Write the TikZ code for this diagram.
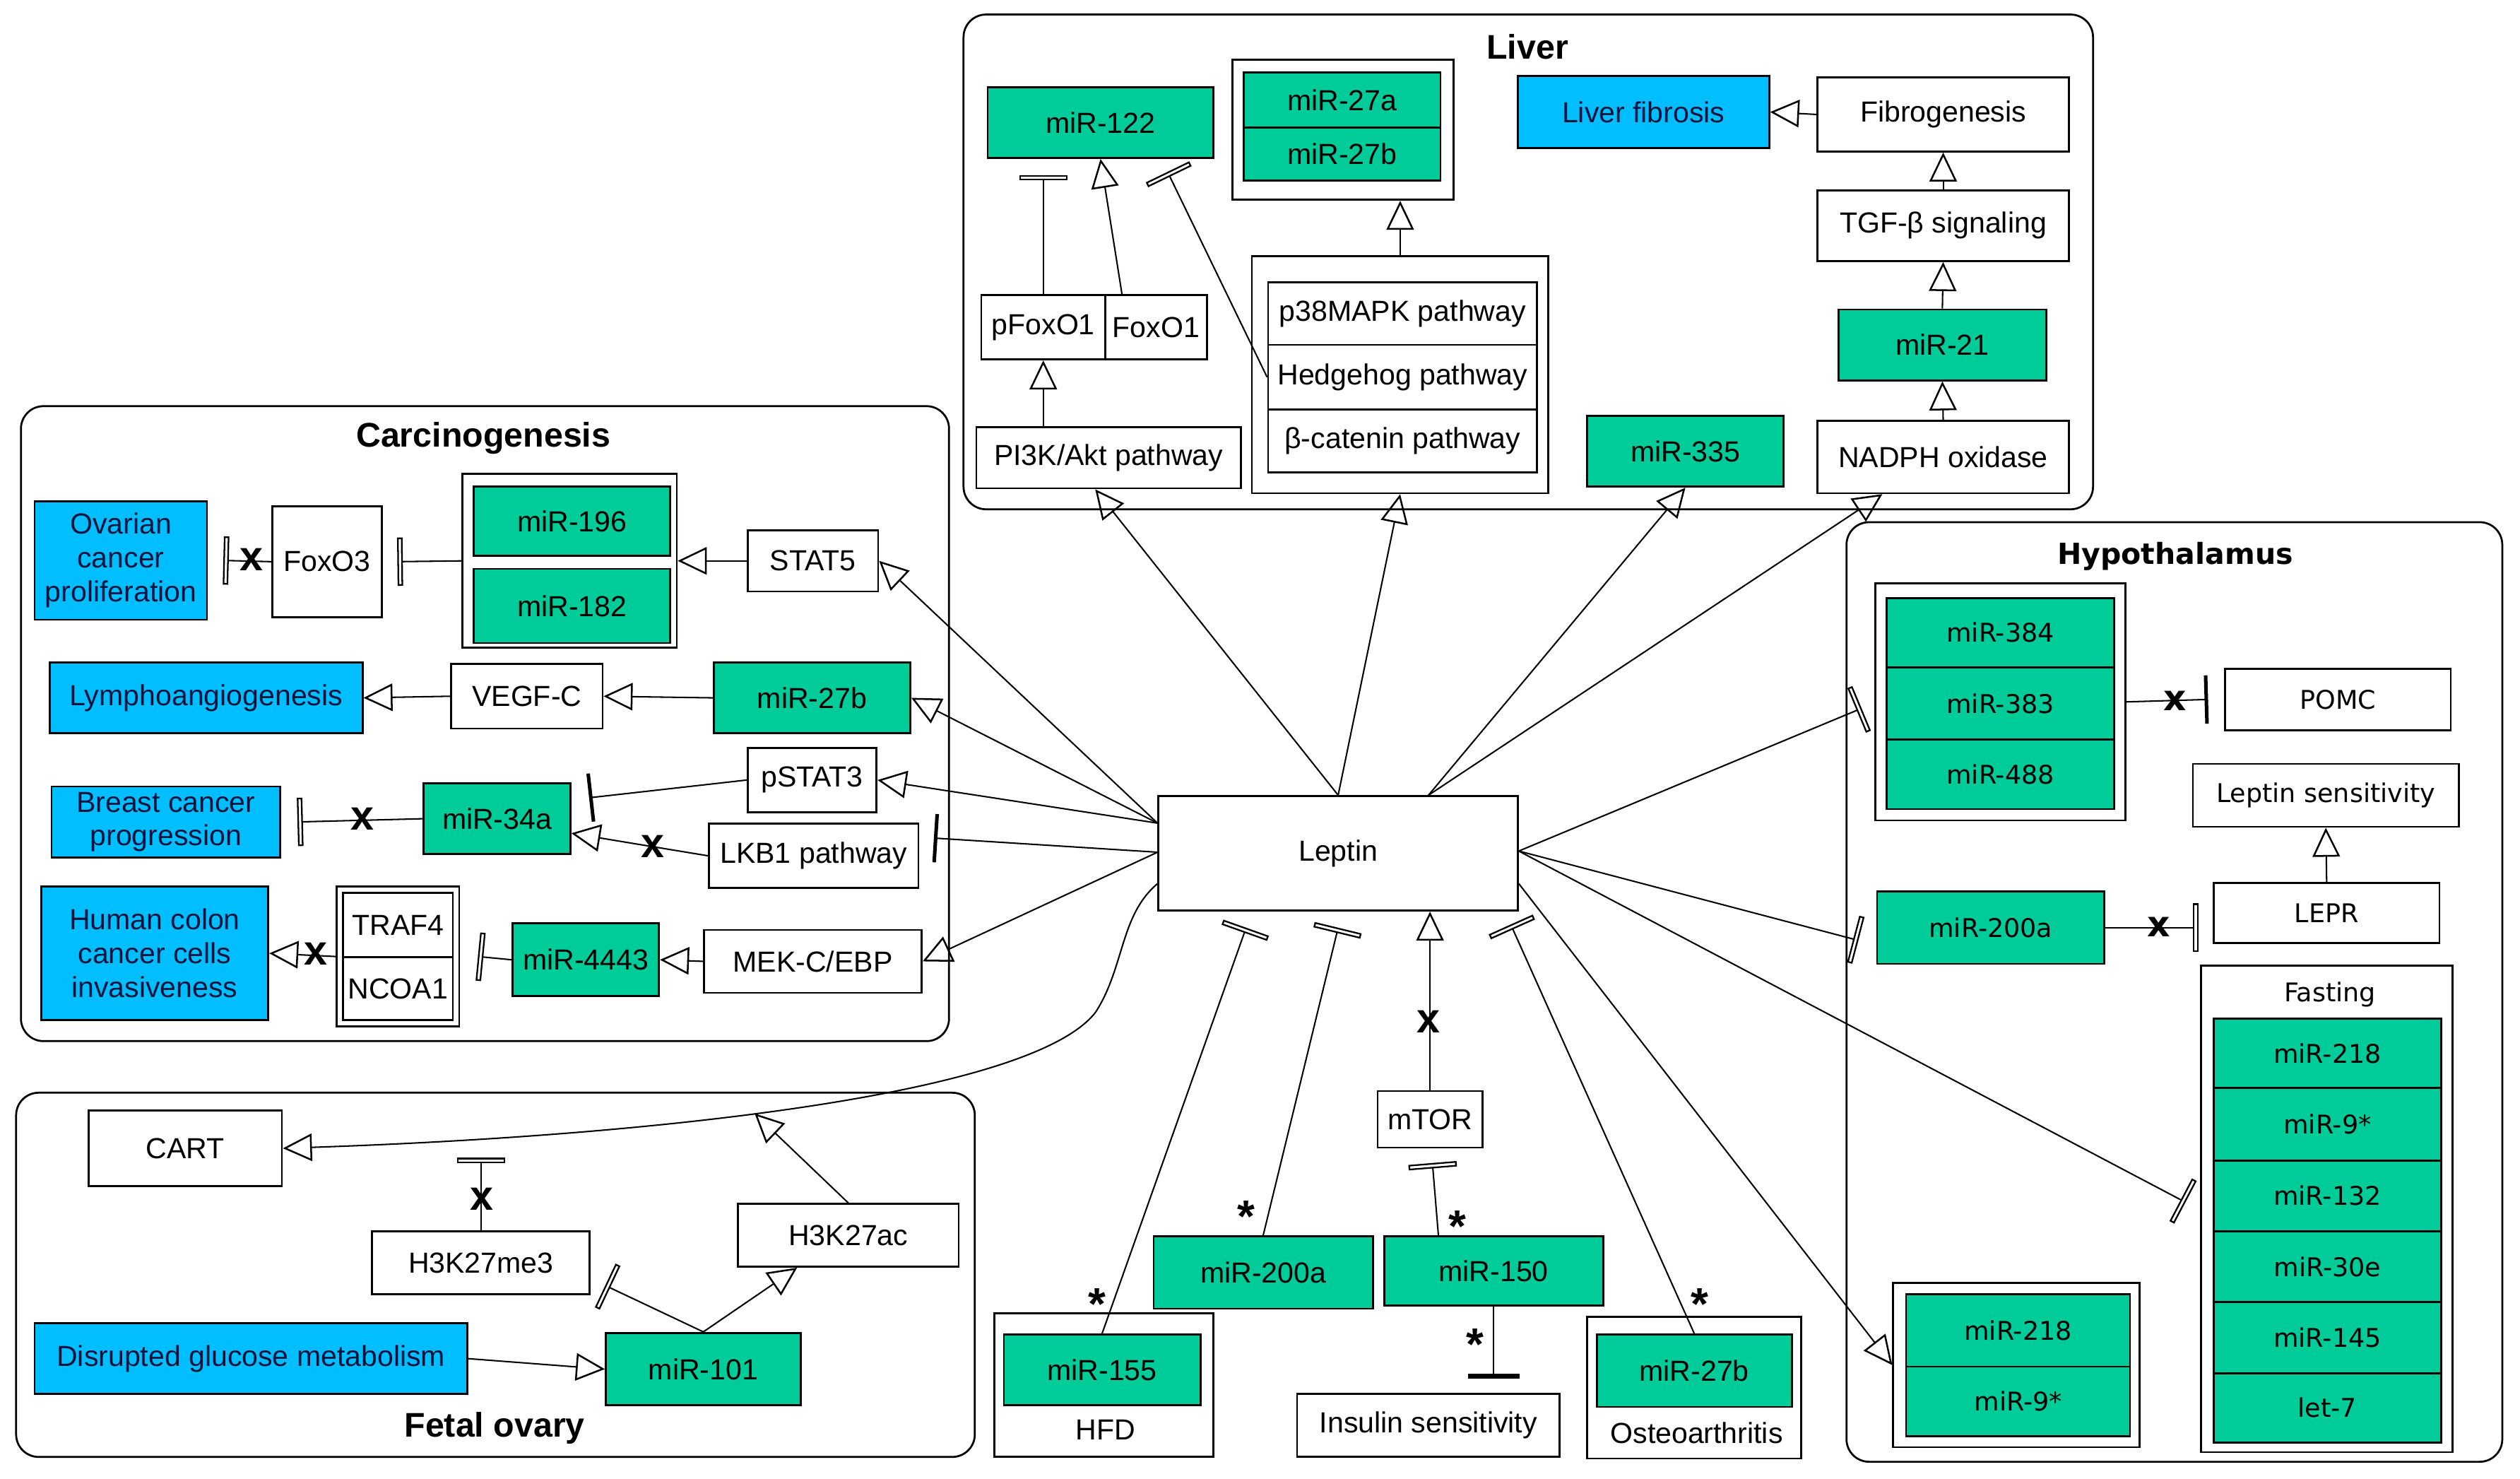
\documentclass[tikz,border=0pt]{standalone}
\usepackage{fontspec}
\setmainfont{Liberation Sans}
\newfontfamily\hypofont{DejaVu Sans}
\usetikzlibrary{arrows.meta,calc}
\definecolor{mirgreen}{RGB}{0,204,153}
\definecolor{outblue}{RGB}{0,190,255}
\definecolor{navy}{RGB}{10,20,60}
\newcommand\fsmain{\fontsize{9}{10.5}\selectfont}
\newcommand\fshypo{\hypofont\fontsize{8}{9.5}\selectfont}
\newcommand\fstitle{\fontsize{10.6}{12}\selectfont\bfseries}
\newcommand\fshtitle{\hypofont\fontsize{9}{11}\selectfont\bfseries}
\newcommand\mybox[7]{\node[#6, minimum width={(#4-#2)*0.5pt}, minimum height={(#5-#3)*0.5pt}] (#1) at ({(#2+#4)/2},{(#3+#5)/2}) {#7};}
\begin{document}
\begin{tikzpicture}[x=0.5pt,y=-0.5pt,
  bx/.style={draw, line width=0.6pt, inner sep=1pt, align=center, font=\fsmain},
  wb/.style={bx, fill=white},
  gb/.style={bx, fill=mirgreen},
  bb/.style={bx, fill=outblue, text=navy},
  hwb/.style={wb, font=\fshypo},
  hgb/.style={gb, font=\fshypo},
  grp/.style={draw, line width=0.6pt, fill=white, inner sep=0pt},
  cont/.style={draw, line width=0.6pt, rounded corners=7pt, inner sep=0pt},
  ttl/.style={font=\fstitle, inner sep=0pt},
  ttlh/.style={font=\fshtitle, inner sep=0pt},
  lbl/.style={font=\fsmain, inner sep=0pt},
  hlbl/.style={font=\fshypo, inner sep=0pt},
  xm/.style={font=\fontsize{13}{13}\selectfont\bfseries, inner sep=0pt},
  hxm/.style={font=\hypofont\fontsize{11}{11}\selectfont\bfseries, inner sep=0pt},
  ast/.style={font=\fontsize{14}{14}\selectfont\bfseries, inner sep=0pt},
  con/.style={draw, line width=0.45pt},
  act/.style={con, -{Triangle[open, length=9pt, width=8.5pt, line width=0.55pt]}},
  inh/.style={con, -{Rectangle[open, length=1.7pt, width=15pt, line width=0.5pt]}},
  inhs/.style={con, -{Bar[width=15pt, line width=1.1pt]}},
  inhthick/.style={con, -{Rectangle[length=1.6pt, width=16pt]}}
]
\useasboundingbox (0,0) rectangle (1564,917.3);

% ---------------- containers ----------------
\mybox{liver}{598}{9}{1299}{316}{cont}{}
\mybox{carc}{13}{252}{589}{646}{cont}{}
\mybox{fetal}{10}{678}{605}{904}{cont}{}
\mybox{hypo}{1146}{324}{1553}{907}{cont}{}
\node[ttl] (tliver) at (948,29) {Liver};
\node[ttl] (tcarc) at (300,272) {Carcinogenesis};
\node[ttl] (tfetal) at (307,886) {Fetal ovary};
\node[ttlh] (thypo) at (1350,345) {Hypothalamus};

% ---------------- liver ----------------
\mybox{mirA}{613}{54}{753}{98}{gb}{miR-122}
\mybox{g27}{765}{37}{902}{124}{grp}{}
\mybox{m27a}{772}{45}{894}{79}{gb}{miR-27a}
\mybox{m27b}{772}{79}{894}{112}{gb}{miR-27b}
\mybox{fibrosis}{942}{47}{1098}{92}{bb}{Liver fibrosis}
\mybox{fibro}{1128}{48}{1284}{94}{wb}{Fibrogenesis}
\mybox{tgf}{1128}{118}{1284}{162}{wb}{TGF-β signaling}
\mybox{mir21}{1141}{192}{1270}{236}{gb}{miR-21}
\mybox{nadph}{1128}{261}{1284}{306}{wb}{NADPH oxidase}
\mybox{mir335}{985}{258}{1107}{302}{gb}{miR-335}
\mybox{pfoxo}{609}{183}{686}{223}{wb}{pFoxO1}
\mybox{foxo}{686}{183}{749}{223}{wb}{FoxO1}
\mybox{pi3k}{606}{265}{770}{303}{wb}{PI3K/Akt pathway}
\mybox{pathg}{777}{159}{961}{306}{grp}{}
\mybox{p38}{787}{175}{954}{214}{wb}{p38MAPK pathway}
\mybox{hedge}{787}{214}{954}{254}{wb}{Hedgehog pathway}
\mybox{bcat}{787}{254}{954}{293}{wb}{β-catenin pathway}

% ---------------- carcinogenesis ----------------
\mybox{ovar}{21.5}{311}{128.5}{384.5}{bb}{Ovarian\\cancer\\proliferation}
\mybox{foxo3}{169}{314}{237}{383}{wb}{FoxO3}
\mybox{g196}{287}{294}{420}{402}{grp}{}
\mybox{m196}{294}{302}{416}{345}{gb}{miR-196}
\mybox{m182}{294}{353}{416}{399}{gb}{miR-182}
\mybox{stat5}{464}{329}{545}{367}{wb}{STAT5}
\mybox{lympho}{31}{411}{225}{455}{bb}{Lymphoangiogenesis}
\mybox{vegfc}{280}{412}{374}{452}{wb}{VEGF-C}
\mybox{m27c}{443}{411}{565}{455}{gb}{miR-27b}
\mybox{pstat3}{464}{464}{544}{504}{wb}{pSTAT3}
\mybox{breast}{32}{488}{174}{532}{bb}{Breast cancer\\progression}
\mybox{m34a}{263}{486}{354}{530}{gb}{miR-34a}
\mybox{lkb1}{440}{511}{570}{551}{wb}{LKB1 pathway}
\mybox{colon}{25.5}{550}{166.5}{633}{bb}{Human colon\\cancer cells\\invasiveness}
\mybox{gtraf}{209}{550}{285}{637}{grp}{}
\mybox{traf4}{213}{554}{281}{594}{wb}{TRAF4}
\mybox{ncoa1}{213}{594}{281}{633}{wb}{NCOA1}
\mybox{m4443}{318}{573}{409}{618}{gb}{miR-4443}
\mybox{mek}{437}{577}{572}{616}{wb}{MEK-C/EBP}

% ---------------- fetal ovary ----------------
\mybox{cart}{55}{689}{175}{736}{wb}{CART}
\mybox{h3me}{231}{764}{366}{803}{wb}{H3K27me3}
\mybox{h3ac}{458}{747}{595}{786}{wb}{H3K27ac}
\mybox{gluc}{21.5}{821}{290}{865}{bb}{Disrupted glucose metabolism}
\mybox{m101}{376}{827}{497}{872}{gb}{miR-101}

% ---------------- centre ----------------
\mybox{leptin}{719}{494}{942}{565}{wb}{Leptin}
\mybox{mtor}{855}{677}{920}{712}{wb}{mTOR}
\mybox{m200c}{716}{767}{852}{812}{gb}{miR-200a}
\mybox{m150}{859}{767}{995}{810}{gb}{miR-150}
\mybox{insulin}{805}{865}{968}{904}{wb}{Insulin sensitivity}
\mybox{hfd}{617}{815}{753}{904}{grp}{}
\mybox{m155}{623}{828}{745}{872}{gb}{miR-155}
\node[lbl] (lhfd) at (686,887) {HFD};
\mybox{osteo}{985}{817}{1118}{905}{grp}{}
\mybox{m27o}{991}{828}{1112}{873}{gb}{miR-27b}
\node[lbl] (losteo) at (1053,889) {Osteoarthritis};

% ---------------- hypothalamus ----------------
\mybox{g384}{1164}{362}{1319}{509}{grp}{}
\mybox{m384}{1171}{371}{1312}{414}{hgb}{miR-384}
\mybox{m383}{1171}{414}{1312}{459}{hgb}{miR-383}
\mybox{m488}{1171}{459}{1312}{502}{hgb}{miR-488}
\mybox{pomc}{1381}{415}{1521}{453}{hwb}{POMC}
\mybox{lsens}{1361}{474}{1526}{513}{hwb}{Leptin sensitivity}
\mybox{lepr}{1374}{548}{1514}{585}{hwb}{LEPR}
\mybox{m200h}{1165}{553}{1306}{598}{hgb}{miR-200a}
\mybox{fast}{1366}{599}{1522}{901}{grp}{}
\node[hlbl] (lfast) at (1446,617) {Fasting};
\mybox{f1}{1374}{632}{1515}{675}{hgb}{miR-218}
\mybox{f2}{1374}{675}{1515}{720}{hgb}{miR-9*}
\mybox{f3}{1374}{720}{1515}{764}{hgb}{miR-132}
\mybox{f4}{1374}{764}{1515}{808}{hgb}{miR-30e}
\mybox{f5}{1374}{808}{1515}{852}{hgb}{miR-145}
\mybox{f6}{1374}{852}{1515}{895}{hgb}{let-7}
\mybox{g218}{1175}{796}{1328}{898}{grp}{}
\mybox{h218}{1183}{803}{1322}{848}{hgb}{miR-218}
\mybox{h9}{1183}{848}{1322}{891}{hgb}{miR-9*}

% ---------------- leptin anchor points ----------------
\coordinate (LN1) at (leptin.north);
\coordinate (LN2) at ($(leptin.north west)!.75!(leptin.north east)$);
\coordinate (LW1) at ($(leptin.north west)!.24!(leptin.south west)$);
\coordinate (LW2) at ($(leptin.north west)!.49!(leptin.south west)$);
\coordinate (LW3) at ($(leptin.north west)!.76!(leptin.south west)$);
\coordinate (LE1) at ($(leptin.north east)!.48!(leptin.south east)$);
\coordinate (LE2) at ($(leptin.north east)!.76!(leptin.south east)$);

% ---------------- leptin connectors ----------------
\draw[act] (LN1) -- ($(pi3k.south west)!.45!(pi3k.south east)$);
\draw[act] (LN1) -- (pathg.south);
\draw[act] (LN2) -- (mir335.south);
\draw[act] (LN2) -- ($(nadph.south west)!.26!(nadph.south east)$);
\draw[act] (LW1) -- (stat5.east);
\draw[act] (LW1) -- (m27c.east);
\draw[act] (LW1) -- (pstat3.east);
\draw[inhs] (LW2) -- ($(lkb1.east)+(9,-11)$);
\draw[act] (LW2) -- (mek.east);
\draw[act] (LW3) .. controls (695,568) and (698,600) .. (680,628)
  .. controls (640,680) and (400,705) .. (cart.east) coordinate[pos=.55] (onc);
\draw[inh] (LE1) -- ($(g384.west)+(-8,4)$);
\draw[inh] (LE1) -- ($(m200h.west)+(-11,8)$);
\draw[inh] (LE1) -- ($(fast.west)+(-9,-4)$);
\draw[act] (LE2) -- (g218.west);
\draw[inh] (m155.north) -- ($(leptin.south west)+(55,10)$);
\draw[inh] (m200c.north) -- ($(leptin.south)+(0,10)$);
\draw[act] (mtor.north) -- (mtor.north |- leptin.south);
\draw[inh] (m27o.north) -- ($(leptin.south east)+(-5,8)$);
\draw[inh] ($(m150.north west)!.25!(m150.north east)$) -- ($(mtor.south)+(1.5,9)$);
\draw[inhthick] (m150.south) -- ($(m150.south |- insulin.north)+(0,-9)$);

% ---------------- liver connectors ----------------
\draw[inh] (pfoxo.north) -- ($(pfoxo.north |- mirA.south)+(0,10)$);
\draw[act] ($(foxo.north west)!.17!(foxo.north east)$) -- (mirA.south);
\draw[inh] (hedge.west) -- ($(mirA.south east)+(-29,8)$);
\draw[act] (pfoxo.south |- pi3k.north) -- (pfoxo.south);
\draw[act] (pathg.north) -- (pathg.north |- g27.south);
\draw[act] (fibro.west) -- (fibrosis.east);
\draw[act] (tgf.north) -- (fibro.south);
\draw[act] (mir21.north) -- (tgf.south);
\draw[act] (nadph.north) -- (mir21.south);

% ---------------- carcinogenesis connectors ----------------
\draw[inh] (foxo3.west) -- ($(ovar.east)+(9.5,0)$);
\draw[inh] (g196.west) -- ($(foxo3.east)+(9,0)$);
\draw[act] (stat5.west) -- (g196.east);
\draw[act] (m27c.west) -- (vegfc.east);
\draw[act] (vegfc.west) -- (lympho.east);
\draw[inhs] (pstat3.west) -- ($(m34a.east)+(11,-13)$);
\draw[act] (lkb1.west) -- ($(m34a.east)+(0,9)$);
\draw[inh] (m34a.west) -- ($(breast.east)+(10,0)$);
\draw[act] (mek.west) -- (m4443.east);
\draw[inh] (m4443.west) -- ($(gtraf.east)+(11,0)$);
\draw[act] (gtraf.west) -- (colon.east);

% ---------------- fetal ovary connectors ----------------
\draw[inh] (h3me.north) -- ($(h3me.north)+(0,-45)$);
\draw[act] (h3ac.north) -- (onc);
\draw[act] (m101.north) -- ($(h3ac.south west)!.27!(h3ac.south east)$);
\draw[inh] (m101.north) -- ($(h3me.south east)+(9,-6)$);
\draw[act] (gluc.east) -- (m101.west);

% ---------------- hypothalamus connectors ----------------
\draw[inhs] (g384.east) -- ($(pomc.west)+(-10,0)$);
\draw[act] (lepr.north) -- (lsens.south);
\draw[inh] (m200h.east) -- ($(lepr.west |- m200h.east)+(-9,0)$);

% ---------------- marks ----------------
\node[xm] (x1) at (156,347) {x};
\node[xm] (x2) at (225,508) {x};
\node[xm] (x3) at (405,525) {x};
\node[xm] (x4) at (196,592) {x};
\node[xm] (x5) at (886.5,634) {x};
\node[xm] (x6) at (299,744) {x};
\node[hxm] (x7) at (1350,435) {x};
\node[hxm] (x8) at (1340,575) {x};
\node[ast] (s1) at (681,809) {*};
\node[ast] (s2) at (773.5,755) {*};
\node[ast] (s3) at (904.5,761) {*};
\node[ast] (s4) at (915.5,834) {*};
\node[ast] (s5) at (1055,809) {*};
\end{tikzpicture}
\end{document}
